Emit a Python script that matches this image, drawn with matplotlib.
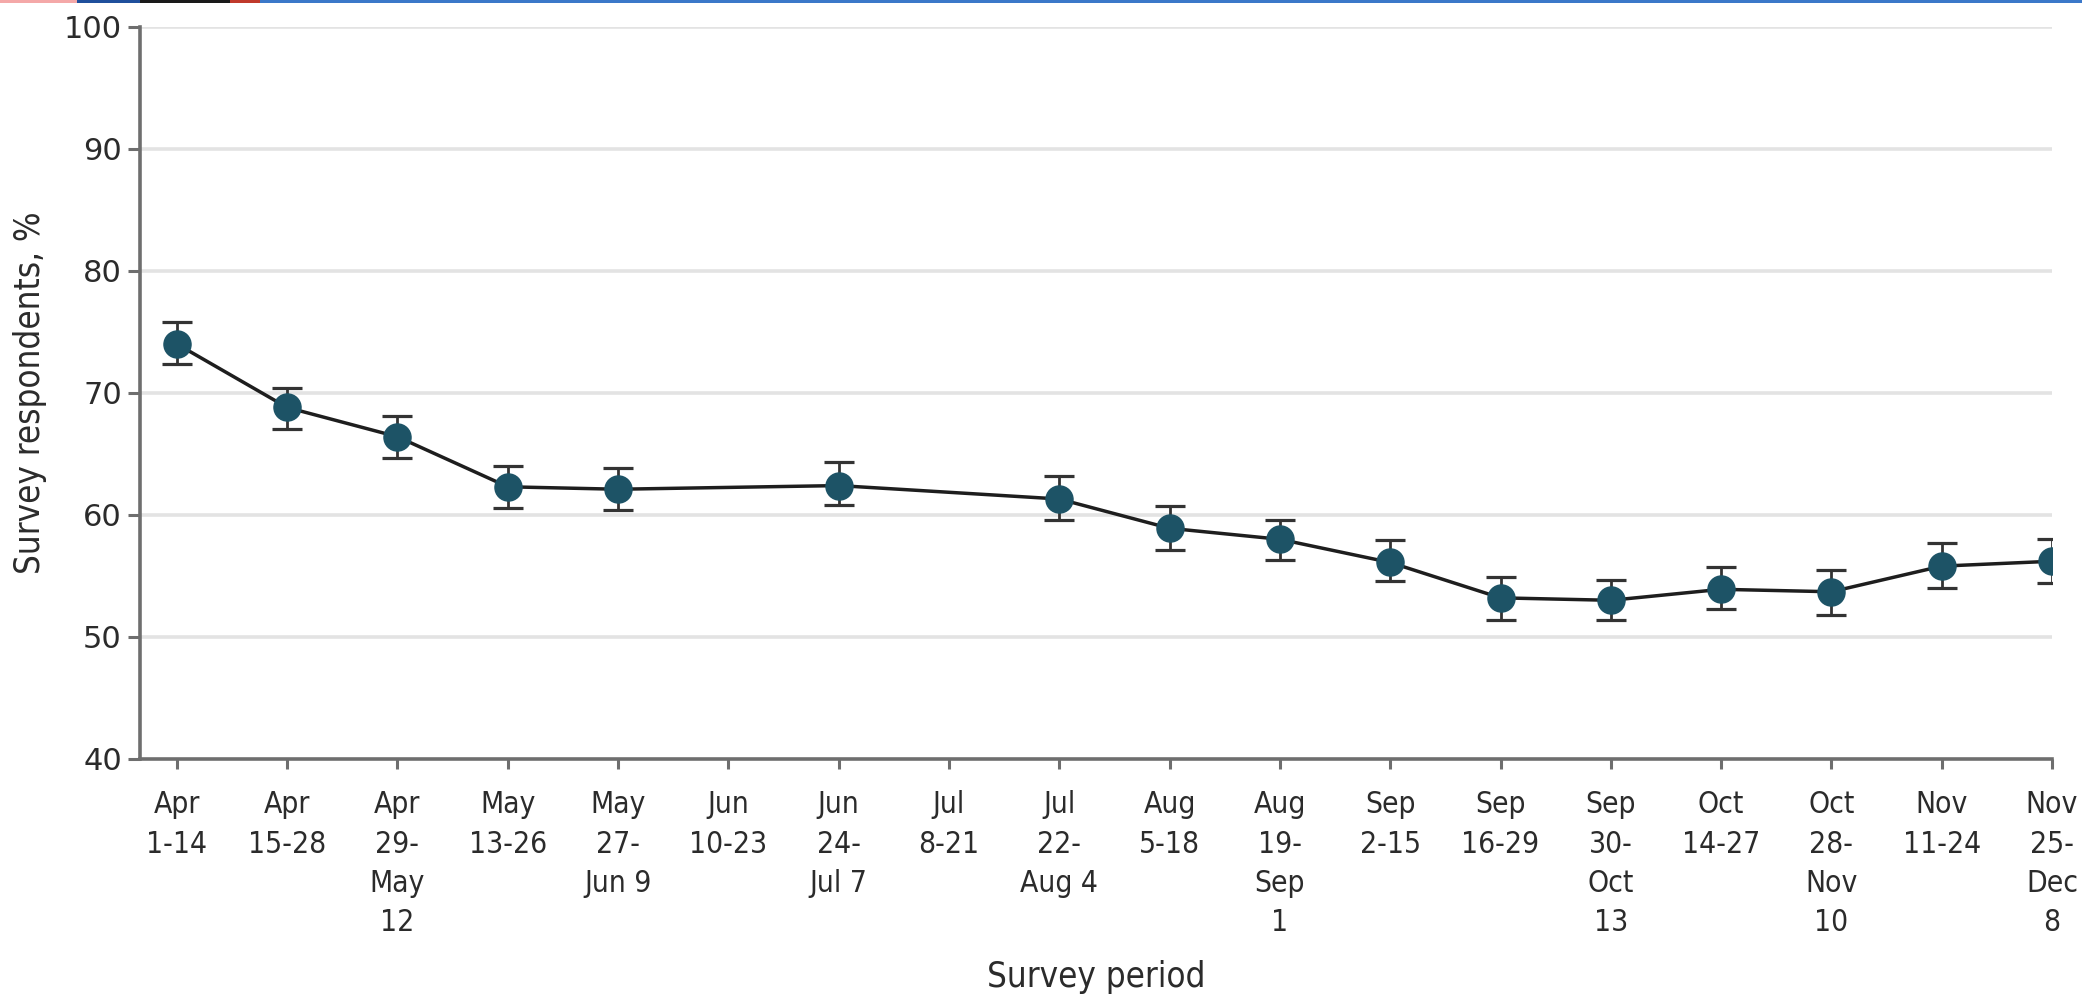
import numpy as np
import matplotlib
matplotlib.use("Agg")
import matplotlib.pyplot as plt
from matplotlib.patches import Rectangle
from matplotlib import font_manager as fm

plt.rcParams['font.family'] = ['DejaVu Sans']

# Survey periods (two-week windows)
periods = [
    "Apr\n1-14", "Apr\n15-28", "Apr\n29-\nMay\n12", "May\n13-26", "May\n27-\nJun 9",
    "Jun\n10-23", "Jun\n24-\nJul 7", "Jul\n8-21", "Jul\n22-\nAug 4", "Aug\n5-18",
    "Aug\n19-\nSep\n1", "Sep\n2-15", "Sep\n16-29", "Sep\n30-\nOct\n13", "Oct\n14-27",
    "Oct\n28-\nNov\n10", "Nov\n11-24", "Nov\n25-\nDec\n8",
]

# Share of respondents (%) with 95% CI; NaN = no estimate for that period
pct = [74.0, 68.8, 66.4, 62.3, 62.1, np.nan, 62.4, np.nan, 61.3, 58.9,
       58.0, 56.1, 53.2, 53.0, 53.9, 53.7, 55.8, 56.2]
ci_low = [72.4, 67.0, 64.7, 60.6, 60.4, np.nan, 60.8, np.nan, 59.6, 57.1,
          56.3, 54.6, 51.4, 51.4, 52.3, 51.8, 54.0, 54.4]
ci_high = [75.8, 70.4, 68.1, 64.0, 63.8, np.nan, 64.3, np.nan, 63.2, 60.7,
           59.6, 57.9, 54.9, 54.7, 55.7, 55.5, 57.7, 58.0]

y_ticks = [40, 50, 60, 70, 80, 90, 100]

text_col = "#2b2b2b"
axis_col = "#6e6e6e"
marker_col = "#1d5366"

narrow = fm.FontProperties(family="DejaVu Sans", stretch="condensed", size=21.5)
narrow_lab = fm.FontProperties(family="DejaVu Sans", stretch="condensed", size=25)

W, H = 2082, 996
fig = plt.figure(figsize=(W / 100, H / 100), dpi=100)
ax_rect = [0.0672, 0.2380, 0.9184, 0.7352]
ax = fig.add_axes(ax_rect)

x = np.arange(len(periods))
y = np.array(pct, dtype=float)
lo = np.array(ci_low, dtype=float)
hi = np.array(ci_high, dtype=float)
ok = ~np.isnan(y)

for yt in y_ticks[1:]:
    ax.axhline(yt, color="#e3e3e3", lw=2.6, zorder=0)

ax.plot(x[ok], y[ok], color="#1e1e1e", lw=2.5, zorder=2)
ax.errorbar(x[ok], y[ok], yerr=[y[ok] - lo[ok], hi[ok] - y[ok]], fmt="none",
            ecolor="#333333", elinewidth=2.0, capsize=11, capthick=2.3, zorder=3)
ax.plot(x[ok], y[ok], "o", color=marker_col, markersize=19.5, mec=marker_col, zorder=4)

ax.set_xlim(-0.335, 17)
ax.set_ylim(40, 100)
ax.set_yticks(y_ticks)
ax.set_xticks(x)
ax.set_xticklabels(periods, color=text_col, linespacing=1.45, fontproperties=narrow)
ax.tick_params(axis="y", labelsize=22, labelcolor=text_col, color=axis_col,
               length=9, width=2.2, pad=4)
ax.tick_params(axis="x", color=axis_col, length=7.5, width=2.2, pad=15)

for s in ["top", "right"]:
    ax.spines[s].set_visible(False)
for s in ["left", "bottom"]:
    ax.spines[s].set_color(axis_col)
    ax.spines[s].set_linewidth(2.6)

# axis titles placed in figure coordinates
fig.text(ax_rect[0] + ax_rect[2] / 2, 1 - 977 / H, "Survey period", color=text_col,
         fontproperties=narrow_lab, ha="center", va="center")
fig.text(30 / W, ax_rect[1] + ax_rect[3] / 2, "Survey respondents, %", color=text_col,
         fontproperties=narrow_lab, ha="center", va="center", rotation=90)

# thin coloured banner line along the top edge
segs = [(0, 77, "#f4a8a8"), (77, 140, "#1f4f9c"), (140, 230, "#1a1a1a"),
        (230, 260, "#c0392b"), (260, 2082, "#3b78c9")]
for x0, x1, c in segs:
    fig.add_artist(Rectangle((x0 / W, 1 - 3 / H), (x1 - x0) / W, 3 / H,
                             transform=fig.transFigure, color=c, lw=0))

fig.savefig("out.png", dpi=100, facecolor="white")
